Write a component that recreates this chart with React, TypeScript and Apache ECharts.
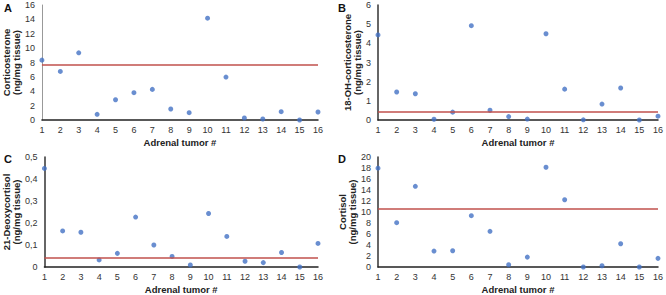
import React, { useEffect, useRef } from "react";
import * as echarts from "echarts";

const tumors = [1, 2, 3, 4, 5, 6, 7, 8, 9, 10, 11, 12, 13, 14, 15, 16];

const corticosterone = [8.33, 6.76, 9.35, 0.79, 2.82, 3.8, 4.26, 1.53, 1.02, 14.17, 5.97, 0.28, 0.14, 1.16, 0.0, 1.11];
const corticosteroneRef = 7.64;

const ohCorticosterone = [4.44, 1.46, 1.37, 0.04, 0.41, 4.92, 0.51, 0.18, 0.05, 4.5, 1.61, 0.01, 0.83, 1.67, 0.0, 0.2];
const ohCorticosteroneRef = 0.45;

const deoxycortisol = [0.448, 0.164, 0.158, 0.032, 0.062, 0.227, 0.1, 0.048, 0.009, 0.243, 0.139, 0.026, 0.02, 0.066, 0.0, 0.107];
const deoxycortisolRef = 0.045;

const cortisol = [17.97, 8.06, 14.67, 2.9, 2.96, 9.33, 6.49, 0.41, 1.8, 18.14, 12.23, 0.0, 0.23, 4.23, 0.0, 1.57];
const cortisolRef = 10.55;

const panelLetters = ["A", "B", "C", "D"];
const yNames = [
  "Corticosterone\n(ng/mg tissue)",
  "18-OH-corticosterone\n(ng/mg tissue)",
  "21-Deoxycortisol\n(ng/mg tissue)",
  "Cortisol\n(ng/mg tissue)",
];
const yMax = [16, 6, 0.5, 20];
const yInterval = [2, 1, 0.1, 2];
const xName = "Adrenal tumor #";

const FONT = "Liberation Sans, Arial, sans-serif";
const BLUE = "#4472C4";
const RED = "#C0504D";

export default function App() {
  const ref = useRef<HTMLDivElement>(null);
  useEffect(() => {
    if (!ref.current) return;
    const chart = echarts.init(ref.current, null, { renderer: "svg" });
    const grids = [
      { left: 34, top: 5, width: 284, height: 115 },
      { left: 378, top: 5, width: 284, height: 115 },
      { left: 34, top: 157, width: 284, height: 115 },
      { left: 378, top: 157, width: 283, height: 115 },
    ];
    const values = [corticosterone, ohCorticosterone, deoxycortisol, cortisol];
    const refs = [corticosteroneRef, ohCorticosteroneRef, deoxycortisolRef, cortisolRef];
    const letterPos = [
      [4, 2],
      [338, 2],
      [4, 153],
      [338, 153],
    ];
    chart.setOption({
      animation: false,
      grid: grids,
      xAxis: grids.map((_, i) => ({
        type: "value",
        gridIndex: i,
        min: 1,
        max: 16,
        interval: 1,
        name: xName,
        nameLocation: "middle",
        nameGap: 17,
        nameTextStyle: { fontFamily: FONT, fontWeight: "bold", fontSize: 9.5, color: "#222" },
        axisLine: { show: true, onZero: false, lineStyle: { color: "#222", width: 1.5 } },
        axisTick: { show: false },
        splitLine: { show: false },
        axisLabel: { fontFamily: FONT, fontSize: 9, color: "#333", margin: 5 },
      })),
      yAxis: grids.map((_, i) => ({
        type: "value",
        gridIndex: i,
        min: 0,
        max: yMax[i],
        interval: yInterval[i],
        name: yNames[i],
        nameLocation: "middle",
        nameRotate: 90,
        nameGap: 14,
        nameTextStyle: { fontFamily: FONT, fontWeight: "bold", fontSize: 9.5, color: "#222", lineHeight: 10 },
        axisLine: { show: true, onZero: false, lineStyle: { color: i === 0 ? "#999" : "#333", width: i === 0 ? 1 : 1.5 } },
        axisTick: { show: false },
        splitLine: { show: false },
        axisLabel: {
          fontFamily: FONT,
          fontSize: 9,
          color: "#333",
          margin: 7,
          formatter: (v: number) =>
            i === 2 ? (v === 0 ? "0" : String(Math.round(v * 10) / 10).replace(".", ",")) : String(v),
        },
      })),
      series: grids.map((_, i) => ({
        type: "scatter",
        xAxisIndex: i,
        yAxisIndex: i,
        symbolSize: 5,
        itemStyle: { color: BLUE },
        data: tumors.map((t, k) => [t, values[i][k]]),
        markLine: {
          silent: true,
          symbol: "none",
          label: { show: false },
          lineStyle: { color: RED, width: 1.5, type: "solid" },
          data: [{ yAxis: refs[i] }],
        },
      })),
      graphic: panelLetters.map((l, i) => ({
        type: "text",
        left: letterPos[i][0],
        top: letterPos[i][1],
        style: { text: l, font: `bold 11px ${FONT}`, fill: "#111" },
      })),
    });
    return () => chart.dispose();
  }, []);
  return (
    <div
      ref={ref}
      style={{ position: "fixed", left: 0, top: 0, width: 666, height: 295, background: "#fff" }}
    />
  );
}
